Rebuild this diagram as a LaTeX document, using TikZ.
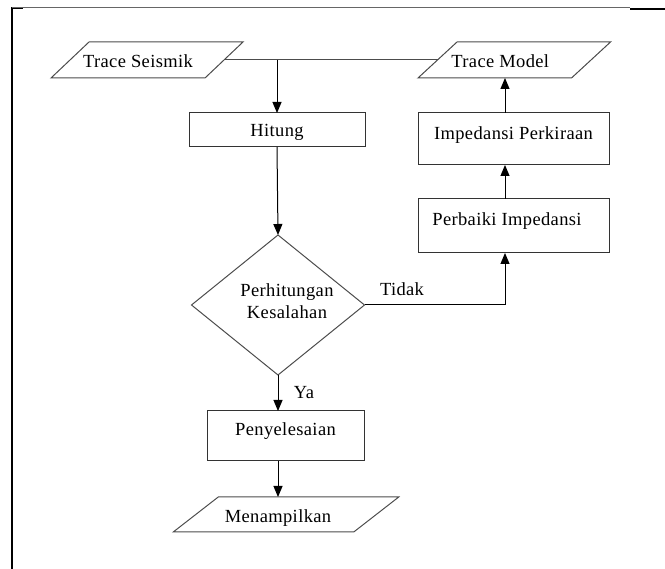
\documentclass[tikz,border=0pt]{standalone}
\usepackage{fontspec}
\setmainfont{Liberation Serif}[LetterSpace=2]
\usetikzlibrary{arrows.meta,calc,shapes.geometric}
\tikzset{
  base/.style={inner sep=0pt, outer sep=0pt, font=\fontsize{18.5}{22}\selectfont},
  mid/.style={text height=9pt, text depth=9pt},
  low/.style={text height=14pt, text depth=0pt},
  procbox/.style={base, draw=black!80, line width=1pt, minimum width=#1},
  iobox/.style={base, minimum width=#1},
  decision/.style={base, diamond, draw=black!70, line width=1pt, minimum width=173pt, minimum height=140pt, aspect=1.236},
  flow/.style={-{Triangle[length=11pt,width=9pt]}, line width=1pt, black},
  outline/.style={draw=black!70, line width=1pt},
}
\newcommand\ioshape[2]{%
  \draw[outline] ($(#1.north west)+(#2,0)$) -- ($(#1.north east)+(#2,0)$) -- ($(#1.south east)+(-#2,0)$) -- ($(#1.south west)+(-#2,0)$) -- cycle;}
\begin{document}
\begin{tikzpicture}[x=1pt, y=-1pt]
\useasboundingbox (0,0) rectangle (665,569);
% frame
\draw[line width=1.4pt] (12,569) -- (12,8) -- (23,8);
\draw[black!60, line width=0.9pt] (12,7) -- (630,7);
\draw[line width=1.8pt] (630,9) -- (665,9);
% nodes
\node[iobox=154pt, minimum height=36pt, low, text height=15pt] (ts) at (147,60) {\hspace*{-18pt}Trace Seismik};
\node[iobox=153.5pt, minimum height=36pt, low, text height=15pt] (tm) at (514.25,60) {\hspace*{-28pt}Trace Model};
\node[procbox=176pt, minimum height=34pt, low] (hit) at (277,130) {Hitung};
\node[procbox=191pt, minimum height=52pt, mid, text depth=7pt] (imp) at (513.5,139) {Impedansi Perkiraan};
\node[procbox=191pt, minimum height=54pt, mid] (perb) at (513.5,226) {\hspace*{-13pt}Perbaiki Impedansi};
\node[decision, label={[base, align=center, xshift=9pt, yshift=4pt]center:Perhitungan\\Kesalahan}] (dec) at (278,305) {};
\node[procbox=157pt, minimum height=50pt, mid] (peny) at (285.5,436) {Penyelesaian};
\node[iobox=180.5pt, minimum height=35pt, low, text height=16pt] (men) at (286,514.5) {\hspace*{-16pt}Menampilkan};
\node[base] (tidak) at (402,289) {Tidak};
\node[base] (ya) at (304,393) {Ya};
\ioshape{ts}{19}
\ioshape{tm}{19.5}
\ioshape{men}{22.5}
% connectors
\coordinate (col) at (505,0);
\draw[outline] (ts.east) -- (tm.west);
\coordinate (j) at (hit.north |- ts.east);
\draw[flow] (j) -- (hit.north);
\draw[flow] (hit.south) -- (dec.north);
\draw[flow] (dec.south) -- (peny.north -| dec.south);
\draw[flow] (peny.south -| dec.south) -- (men.north -| dec.south);
\draw[flow] (dec.east) -| (perb.south -| col);
\draw[flow] (perb.north -| col) -- (imp.south -| col);
\draw[flow] (imp.north -| col) -- (tm.south -| col);
\end{tikzpicture}
\end{document}
